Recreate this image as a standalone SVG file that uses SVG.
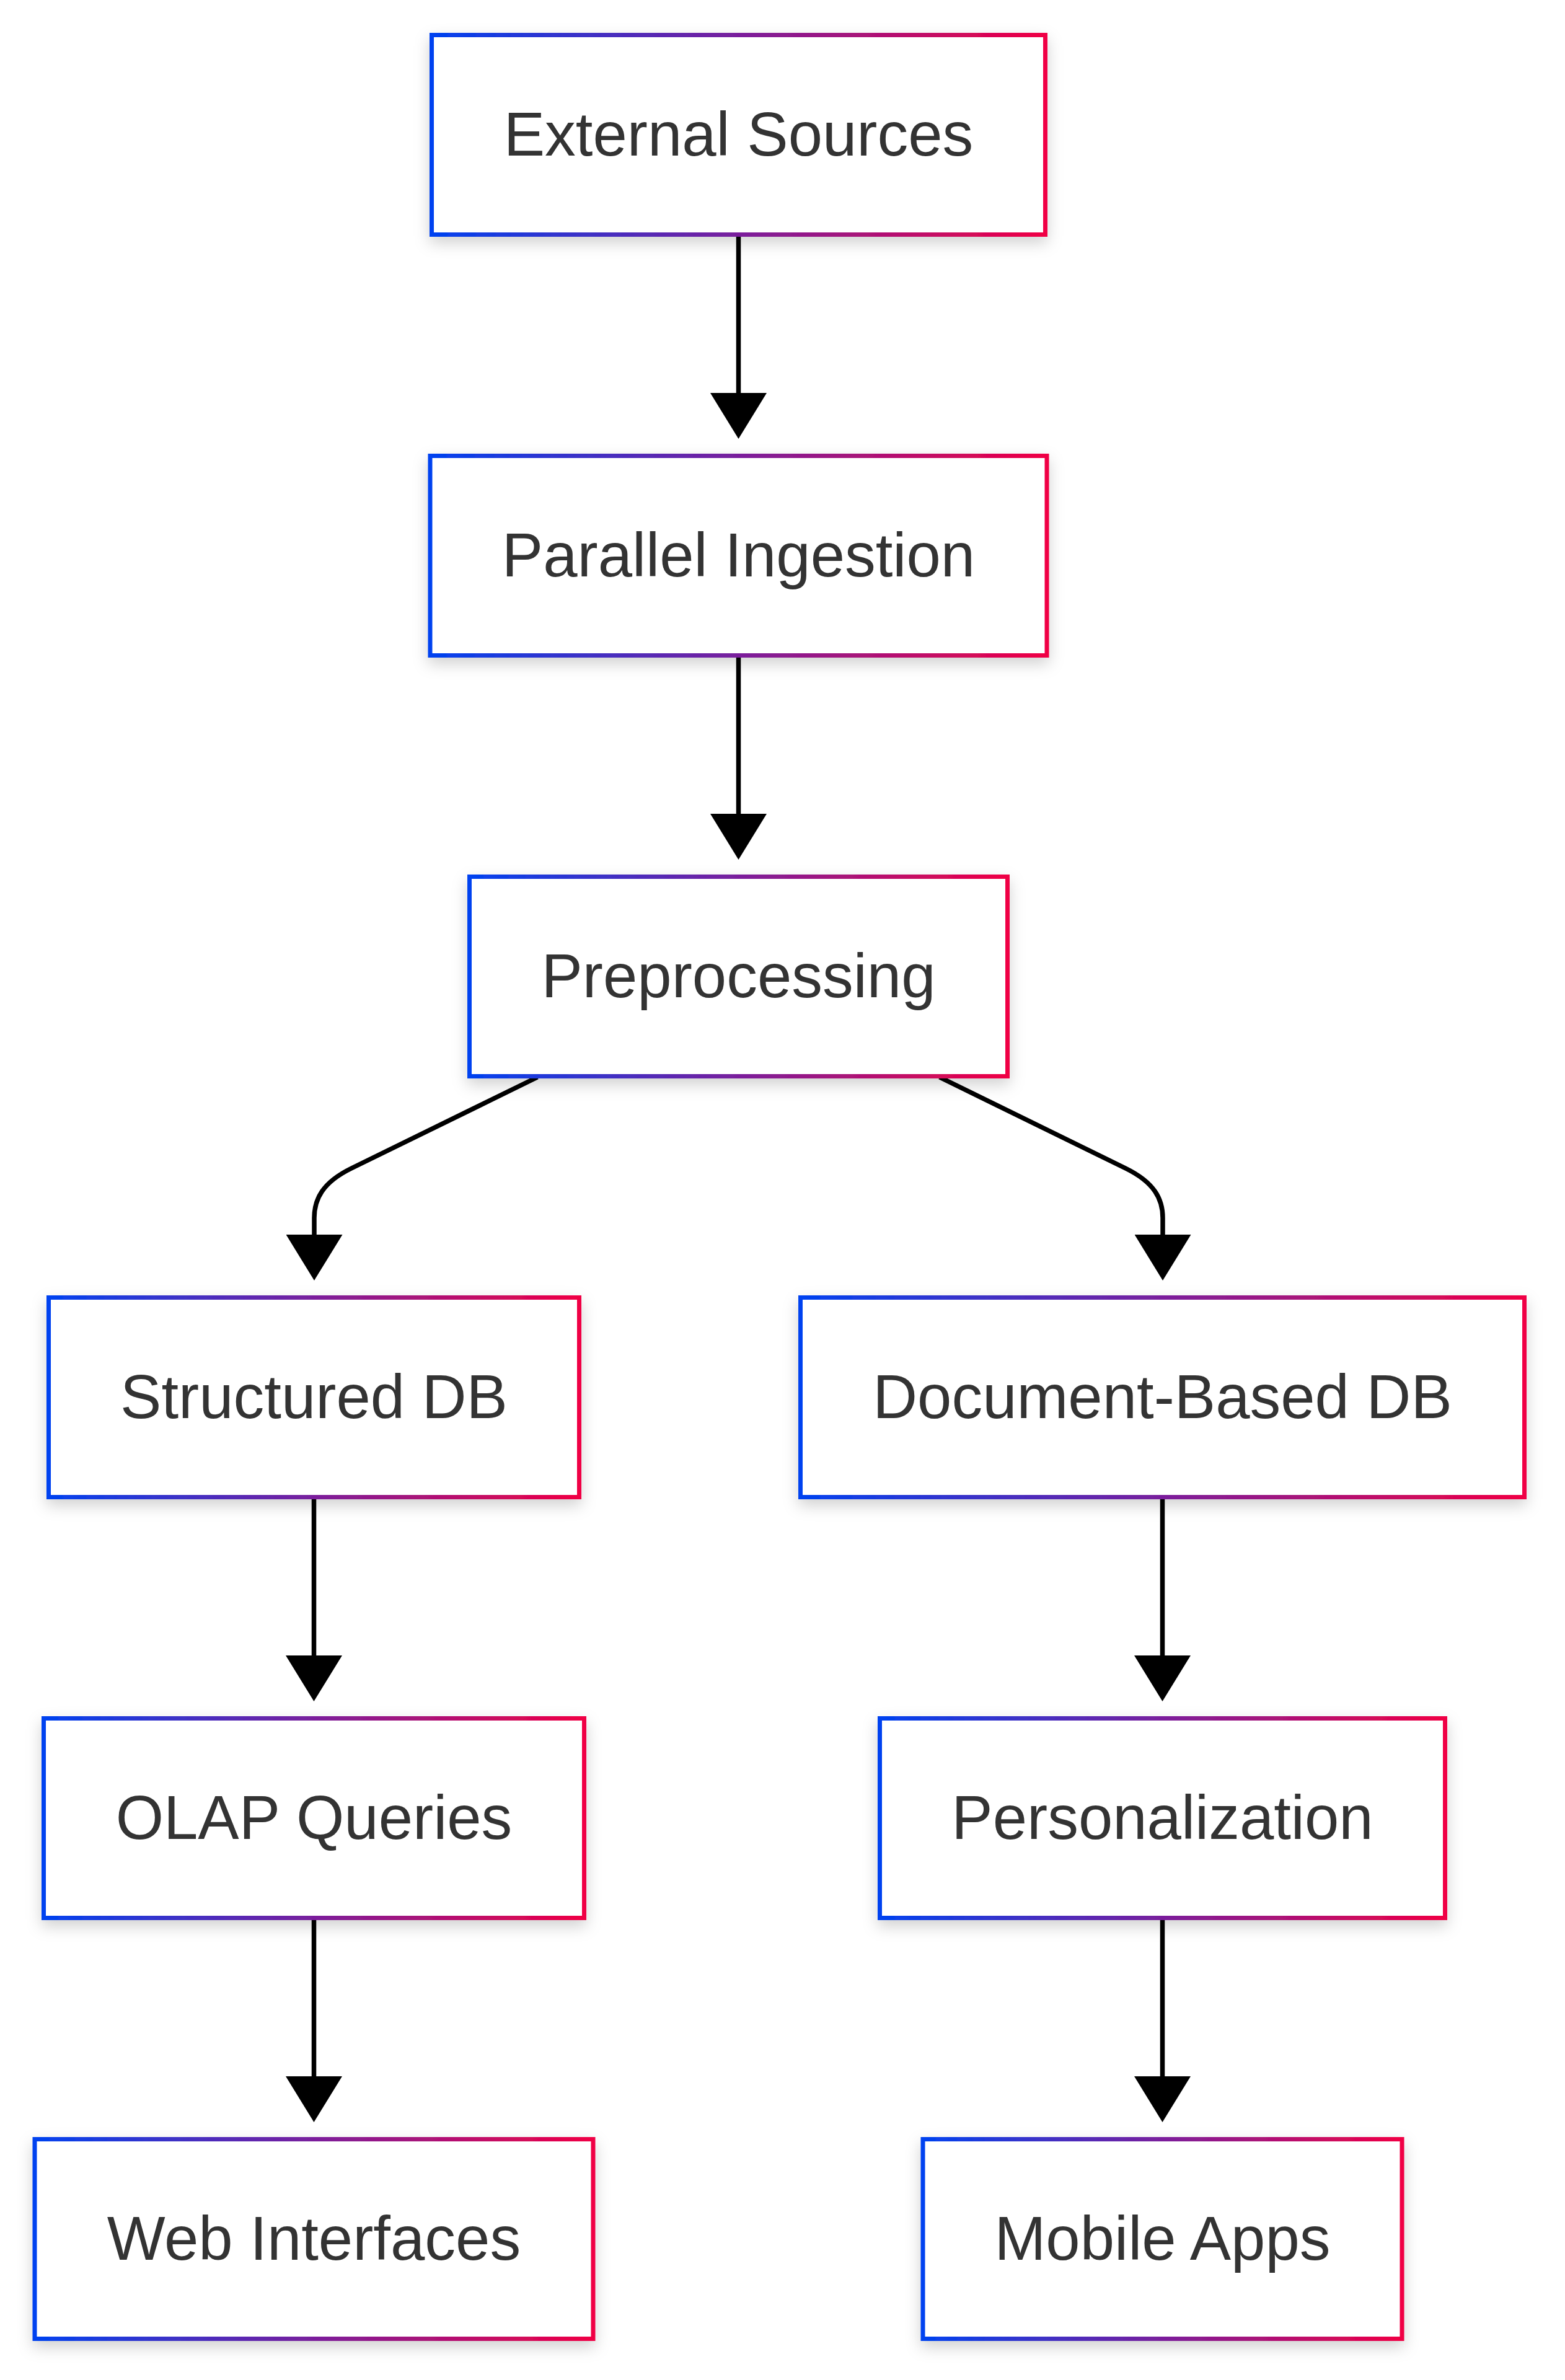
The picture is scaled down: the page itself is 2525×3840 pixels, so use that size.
<svg xmlns="http://www.w3.org/2000/svg" width="2525" height="3840" viewBox="0 0 2525 3840">
<defs>
<linearGradient id="grad" x1="0" y1="0" x2="1" y2="0">
<stop offset="0" stop-color="#0042f0"/>
<stop offset="0.5" stop-color="#7a1f9c"/>
<stop offset="1" stop-color="#f00044"/>
</linearGradient>
<filter id="shadow" x="-10%" y="-10%" width="120%" height="140%">
<feDropShadow dx="0" dy="10" stdDeviation="12" flood-color="#000" flood-opacity="0.18"/>
</filter>
<marker id="arrow" markerUnits="userSpaceOnUse" markerWidth="74" markerHeight="91" refX="0" refY="45.5" orient="auto" viewBox="0 0 74 91">
<path d="M0,0 L74,45.5 L0,91 Z" fill="#000"/>
</marker>
<style>
.node rect { fill: #ffffff; stroke: url(#grad); stroke-width: 7; filter: url(#shadow); }
.node text { font-family: "Liberation Sans", Arial, sans-serif; font-size: 99.5px; fill: #333333; text-anchor: middle; }
.edge { fill: none; stroke: #000; stroke-width: 7.5; }
</style>
</defs>
<rect width="2525" height="3840" fill="#ffffff"/>
<g id="connectors">
<path class="edge" d="M1191.5,382 L1191.5,634" marker-end="url(#arrow)"/>
<path class="edge" d="M1191.5,1061 L1191.5,1313" marker-end="url(#arrow)"/>
<path class="edge" d="M867,1738 L567,1885 C520,1908 507,1935 507,1965 L507,1992" marker-end="url(#arrow)"/>
<path class="edge" d="M1516,1738 L1816,1885 C1863,1908 1876,1935 1876,1965 L1876,1992" marker-end="url(#arrow)"/>
<path class="edge" d="M506.5,2419 L506.5,2671" marker-end="url(#arrow)"/>
<path class="edge" d="M506.5,3098 L506.5,3350" marker-end="url(#arrow)"/>
<path class="edge" d="M1875.5,2419 L1875.5,2671" marker-end="url(#arrow)"/>
<path class="edge" d="M1875.5,3098 L1875.5,3350" marker-end="url(#arrow)"/>
</g>
<g id="node-external" class="node">
<rect x="696.5" y="56.5" width="990" height="322"/>
<text x="1191.5" y="250.5">External Sources</text>
</g>
<g id="node-parallel" class="node">
<rect x="694" y="735.5" width="995" height="322"/>
<text x="1191.5" y="929.5">Parallel Ingestion</text>
</g>
<g id="node-preprocessing" class="node">
<rect x="757.5" y="1414.5" width="868" height="322"/>
<text x="1191.5" y="1608.5">Preprocessing</text>
</g>
<g id="node-structured" class="node">
<rect x="78.5" y="2093.5" width="856" height="322"/>
<text x="506.5" y="2287.5">Structured DB</text>
</g>
<g id="node-document" class="node">
<rect x="1291.5" y="2093.5" width="1168" height="322"/>
<text x="1875.5" y="2287.5">Document-Based DB</text>
</g>
<g id="node-olap" class="node">
<rect x="70.5" y="2772.5" width="872" height="322"/>
<text x="506.5" y="2966.5">OLAP Queries</text>
</g>
<g id="node-personalization" class="node">
<rect x="1419.5" y="2772.5" width="912" height="322"/>
<text x="1875.5" y="2966.5">Personalization</text>
</g>
<g id="node-web" class="node">
<rect x="56" y="3451.5" width="901" height="322"/>
<text x="506.5" y="3645.5">Web Interfaces</text>
</g>
<g id="node-mobile" class="node">
<rect x="1489" y="3451.5" width="773" height="322"/>
<text x="1875.5" y="3645.5">Mobile Apps</text>
</g>
</svg>
